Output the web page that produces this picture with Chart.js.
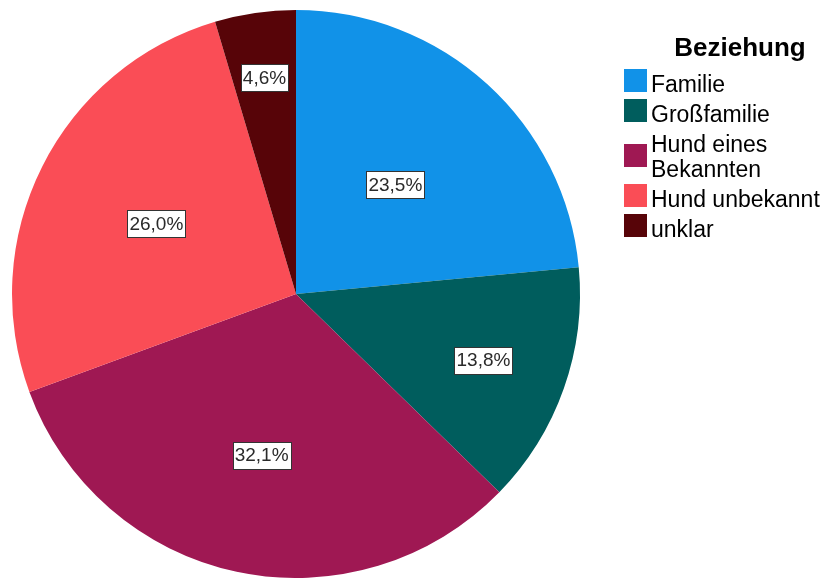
<!DOCTYPE html>
<html>
<head>
<meta charset="utf-8">
<script src="https://cdn.jsdelivr.net/npm/chart.js@4"></script>
<style>
  html, body { margin: 0; padding: 0; background: #fff; overflow: hidden; }
  #wrap { width: 825px; height: 578px; position: relative; }
</style>
</head>
<body>
<div id="wrap"><canvas id="myChart"></canvas></div>
<script>
const categories = ["Familie", "Großfamilie", "Hund eines Bekannten", "Hund unbekannt", "unklar"];
const percentages = [23.5, 13.8, 32.1, 26.0, 4.6];
const legendTitle = "Beziehung";

const colors = ["#1192e8", "#005d5d", "#9f1853", "#fa4d56", "#570408"];
// how far out (fraction of radius) each value box sits
const labelRadius = [0.52, 0.7, 0.58, 0.55, 0.77];

const FONT = "'Liberation Sans', Arial, sans-serif";

function wrapText(ctx, text, maxWidth) {
  const words = text.split(" ");
  const lines = [];
  let line = "";
  words.forEach((w) => {
    const test = line ? line + " " + w : w;
    if (ctx.measureText(test).width > maxWidth && line) {
      lines.push(line);
      line = w;
    } else {
      line = test;
    }
  });
  if (line) lines.push(line);
  return lines;
}

const valueLabels = {
  id: "valueLabels",
  afterDatasetsDraw(chart) {
    const ctx = chart.ctx;
    const meta = chart.getDatasetMeta(0);
    ctx.save();
    ctx.font = "19px " + FONT;
    ctx.textAlign = "center";
    ctx.textBaseline = "middle";
    meta.data.forEach((arc, i) => {
      const mid = (arc.startAngle + arc.endAngle) / 2;
      const r = arc.outerRadius * labelRadius[i];
      const x = arc.x + Math.cos(mid) * r;
      const y = arc.y + Math.sin(mid) * r;
      const text = percentages[i].toFixed(1).replace(".", ",") + "%";
      const w = Math.round(ctx.measureText(text).width + 4);
      const h = 27;
      const bx = Math.round(x - w / 2) + 0.5;
      const by = Math.round(y - h / 2) + 0.5;
      ctx.fillStyle = "#fff";
      ctx.fillRect(bx, by, w, h);
      ctx.strokeStyle = "#333";
      ctx.lineWidth = 1;
      ctx.strokeRect(bx, by, w, h);
      ctx.fillStyle = "#2a2a2a";
      ctx.fillText(text, x, y + 1);
    });
    ctx.restore();
  },
};

const sideLegend = {
  id: "sideLegend",
  afterDraw(chart) {
    const ctx = chart.ctx;
    ctx.save();
    ctx.fillStyle = "#000";
    ctx.font = "bold 26px " + FONT;
    ctx.textAlign = "center";
    ctx.textBaseline = "alphabetic";
    ctx.fillText(legendTitle, 740, 56);

    ctx.font = "23px " + FONT;
    ctx.textAlign = "left";
    let baseline = 92;
    categories.forEach((cat, i) => {
      const lines = wrapText(ctx, cat, 175);
      const firstBase = baseline;
      lines.forEach((ln, k) => {
        ctx.fillStyle = "#000";
        ctx.fillText(ln, 651, baseline);
        if (k < lines.length - 1) baseline += 25;
      });
      ctx.fillStyle = colors[i];
      if (lines.length === 1) {
        ctx.fillRect(624, firstBase - 23, 23, 23);
      } else {
        const mid = (firstBase - 17 + baseline) / 2;
        ctx.fillRect(624, Math.round(mid - 12), 23, 23);
      }
      baseline += 30;
    });
    ctx.restore();
  },
};

new Chart(document.getElementById("myChart"), {
  type: "pie",
  data: {
    labels: categories,
    datasets: [
      {
        data: percentages,
        backgroundColor: colors,
        borderWidth: 0,
      },
    ],
  },
  options: {
    responsive: true,
    maintainAspectRatio: false,
    animation: false,
    layout: { padding: { top: 10, bottom: 0, left: 12, right: 245 } },
    plugins: {
      legend: { display: false },
      tooltip: { enabled: false },
    },
  },
  plugins: [valueLabels, sideLegend],
});
</script>
</body>
</html>
